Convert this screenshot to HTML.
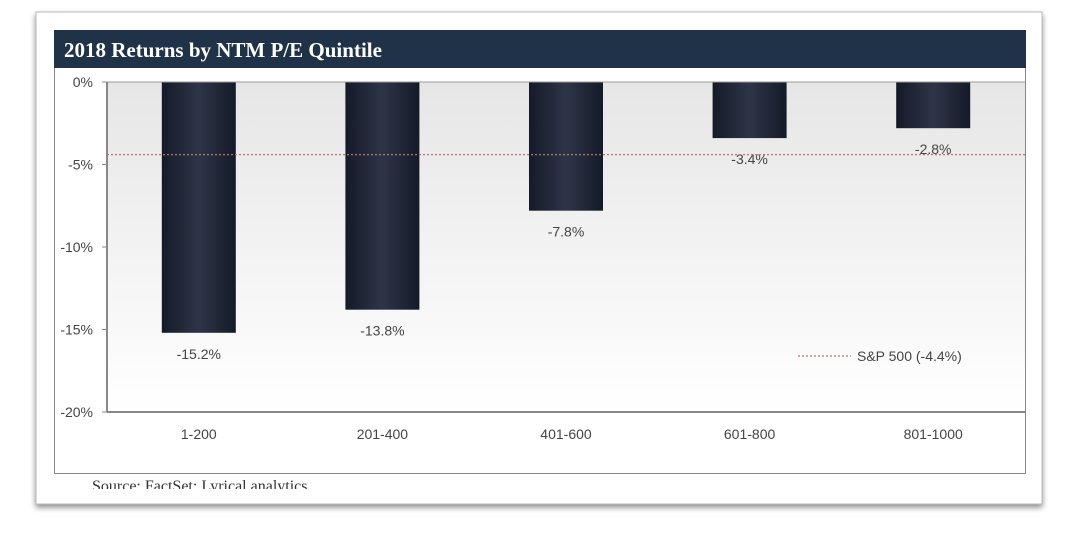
<!DOCTYPE html>
<html><head><meta charset="utf-8"><style>
body{margin:0;width:1077px;height:547px;background:#fff;overflow:hidden;font-family:"Liberation Sans",sans-serif}
</style></head><body>
<svg width="1077" height="547">
<defs>
<linearGradient id="bg" x1="0" y1="0" x2="0" y2="1"><stop offset="0" stop-color="#e6e6e6"/><stop offset="1" stop-color="#ffffff"/></linearGradient>
<linearGradient id="bar" x1="0" y1="0" x2="1" y2="0"><stop offset="0" stop-color="#141a28"/><stop offset="0.5" stop-color="#2e3548"/><stop offset="1" stop-color="#141a28"/></linearGradient>
<filter id="sh" x="-5%" y="-5%" width="110%" height="115%"><feDropShadow dx="0" dy="3" stdDeviation="3" flood-color="#000" flood-opacity="0.45"/></filter>
</defs>
<rect x="36" y="12" width="1006" height="492" fill="#fff" stroke="#bbb" filter="url(#sh)"/>
<rect x="54.5" y="30.5" width="971" height="443" fill="#fff" stroke="#888"/>
<rect x="54" y="30" width="972" height="38" fill="#1f3247"/>
<text x="64" y="57" fill="#fff" font-family="'Liberation Serif',serif" font-weight="bold" font-size="21">2018 Returns by NTM P/E Quintile</text>
<rect x="107" y="82" width="918" height="330" fill="url(#bg)"/>
<g id="g"></g>
<text x="92" y="491" font-family="'Liberation Serif',serif" font-size="16" fill="#333">Source: FactSet; Lyrical analytics</text>
<rect x="37" y="489" width="1004" height="14" fill="#fff"/>
</svg>
<script>
const categories=["1-200","201-400","401-600","601-800","801-1000"];
const values=[-15.2,-13.8,-7.8,-3.4,-2.8];
const labels=["-15.2%","-13.8%","-7.8%","-3.4%","-2.8%"];
const yTicks=[0,-5,-10,-15,-20];
const benchmark=[-4.4];
const NS="http://www.w3.org/2000/svg";
const g=document.getElementById('g');
const L=107,R=1025,T=82,B=412;
const y=v=>T+(0-v)/20*(B-T);
const band=(R-L)/categories.length;
const x=i=>L+band*(i+0.5);
function mk(t,a,txt){const e=document.createElementNS(NS,t);for(const k in a)e.setAttribute(k,a[k]);if(txt!==undefined)e.textContent=txt;g.appendChild(e);return e;}
yTicks.forEach(v=>{
 const t=mk('line',{x1:L-5,x2:L,y1:y(v),y2:y(v),stroke:'#888'});
 
 
 const l=mk('text',{x:L-14,y:y(v)+5,'text-anchor':'end','font-size':14,fill:'#444'},v+'%');
 
 
});
categories.forEach((c,i)=>{
 const v=values[i];
 const b=mk('rect',{x:x(i)-37,y:y(0),width:74,height:y(v)-y(0),fill:'url(#bar)'});
 
 
 const l=mk('text',{x:x(i),y:y(v)+26,'text-anchor':'middle','font-size':14,fill:'#444'},labels[i]);
 
 
 const cl=mk('text',{x:x(i),y:B+27,'text-anchor':'middle','font-size':14,fill:'#444'},c);
 
 
});
const bl=mk('line',{x1:L,x2:R,y1:y(benchmark[0]),y2:y(benchmark[0]),stroke:'#c07070','stroke-width':1.3,'stroke-dasharray':'2 2'});


const ax=mk('line',{x1:L,x2:L,y1:T,y2:B,stroke:'#888','stroke-width':2});


const xa=mk('line',{x1:L,x2:R,y1:B,y2:B,stroke:'#888','stroke-width':2});


const tl=mk('line',{x1:L,x2:R,y1:T,y2:T,stroke:'#999','stroke-width':1});


const lg=mk('line',{x1:798,x2:851,y1:356,y2:356,stroke:'#c07070','stroke-width':1.3,'stroke-dasharray':'2 2'});


const lt=mk('text',{x:857,y:361,'font-size':14,fill:'#444'},'S&P 500 (-4.4%)');


</script>
</body></html>
